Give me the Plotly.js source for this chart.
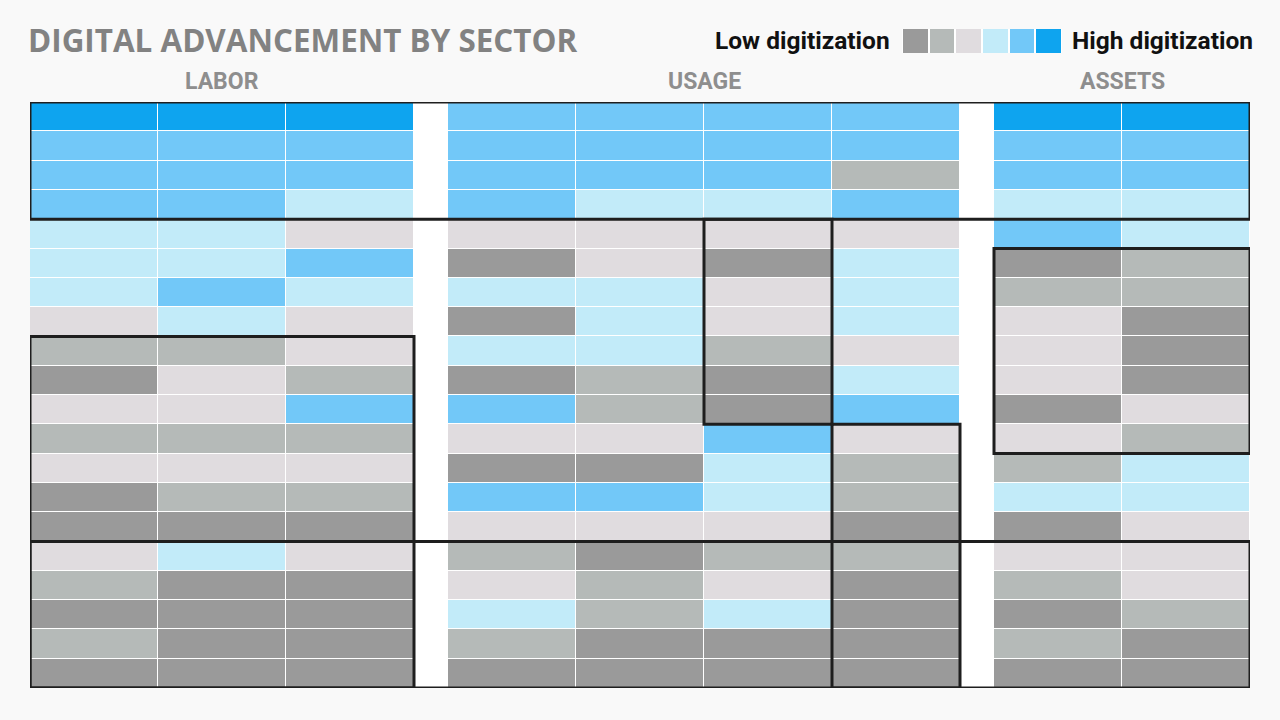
<!DOCTYPE html>
<html>
<head>
<meta charset="utf-8">
<script src="https://cdn.plot.ly/plotly-3.0.1.min.js"></script>
<style>
  html, body { margin: 0; padding: 0; background: #f9f9f9; }
  #chart { width: 1280px; height: 720px; }
</style>
</head>
<body>
<div id="chart"></div>
<script>
// ---- Data (digitization level 1 = low ... 6 = high), rows top to bottom ----
const groupNames = ["LABOR", "USAGE", "ASSETS"];
const labor = [
  [6,6,6],[5,5,5],[5,5,5],[5,5,4],[4,4,3],
  [4,4,5],[4,5,4],[3,4,3],[2,2,3],[1,3,2],
  [3,3,5],[2,2,2],[3,3,3],[1,2,2],[1,1,1],
  [3,4,3],[2,1,1],[1,1,1],[2,1,1],[1,1,1]
];
const usage = [
  [5,5,5,5],[5,5,5,5],[5,5,5,2],[5,4,4,5],[3,3,3,3],
  [1,3,1,4],[4,4,3,4],[1,4,3,4],[4,4,2,3],[1,2,1,4],
  [5,2,1,5],[3,3,5,3],[1,1,4,2],[5,5,4,2],[3,3,3,1],
  [2,1,2,2],[3,2,3,1],[4,2,4,1],[2,1,1,1],[1,1,1,1]
];
const assets = [
  [6,6],[5,5],[5,5],[4,4],[5,4],
  [1,2],[2,2],[3,1],[3,1],[3,1],
  [1,3],[3,2],[2,4],[4,4],[1,3],
  [3,3],[2,3],[1,2],[2,1],[1,1]
];
const levels = [1,2,3,4,5,6];
const legendLow = "Low digitization";
const legendHigh = "High digitization";
const chartTitle = "DIGITAL ADVANCEMENT BY SECTOR";
// Outlined clusters: [firstRow, lastRow, firstCol, lastCol] (1-based rows, 0-based global cols)
const outlines = [
  [1, 4, 0, 8],
  [9, 20, 0, 2],
  [16, 20, 0, 8],
  [5, 11, 5, 5],
  [12, 20, 6, 6],
  [6, 12, 7, 8]
];

// ---- Styling / geometry ----
const colors = ["#9a9a9a", "#b5bab8", "#e0dcdf", "#c2ebf9", "#72c8f8", "#0ea4ef"];
const GAP = 34 / 128;
const groupStart = [0, 3 + GAP, 7 + 2 * GAP];
const groupData = [labor, usage, assets];
const nRows = labor.length;
const xMax = 8.5 + 2 * GAP;

const colorscale = [];
colors.forEach((c, i) => {
  colorscale.push([i / colors.length, c]);
  colorscale.push([(i + 1) / colors.length, c]);
});

function colX(c) {
  if (c < 3) return c;
  if (c < 7) return c + GAP;
  return c + 2 * GAP;
}

const traces = groupData.map((z, gi) => ({
  type: "heatmap",
  z: z,
  x0: groupStart[gi], dx: 1,
  y0: 0, dy: 1,
  zmin: 0.5, zmax: 6.5,
  colorscale: colorscale,
  showscale: false,
  xgap: 1, ygap: 1,
  hoverinfo: "skip",
  xaxis: "x", yaxis: "y"
}));

// legend swatches as a small heatmap
traces.push({
  type: "heatmap",
  z: [levels],
  x0: 0, dx: 1, y0: 0, dy: 1,
  zmin: 0.5, zmax: 6.5,
  colorscale: colorscale,
  showscale: false,
  xgap: 2, ygap: 0,
  hoverinfo: "skip",
  xaxis: "x2", yaxis: "y2"
});

const W = 1280, H = 720;
const paperTop = 16, plotTop = 102, plotBottom = 688;
const pyToPaper = py => (plotBottom - py) / (plotBottom - paperTop);
const pxToPaper = px => (px - 30) / 1220;

const shapes = outlines.map(o => ({
  type: "rect", xref: "x", yref: "y",
  x0: colX(o[2]) - 0.5, x1: colX(o[3]) + 0.5,
  y0: o[0] - 1.5, y1: o[1] - 0.5,
  line: { color: "#1e1e1e", width: 3 },
  fillcolor: "rgba(0,0,0,0)"
}));

const annotations = [];
const groupCenters = [
  (groupStart[0] - 0.5 + groupStart[0] + 2.5) / 2,
  (groupStart[1] - 0.5 + groupStart[1] + 3.5) / 2,
  (groupStart[2] - 0.5 + groupStart[2] + 1.5) / 2
];
groupNames.forEach((n, i) => annotations.push({
  text: n, xref: "x", yref: "paper",
  x: groupCenters[i], y: pyToPaper(82),
  xanchor: "center", yanchor: "middle", showarrow: false,
  font: { family: "Roboto, 'Open Sans', sans-serif", size: 23, weight: 700, color: "#8e8e8e" }
}));
annotations.push({
  text: chartTitle, xref: "paper", yref: "paper",
  x: -0.003, y: pyToPaper(40), xanchor: "left", yanchor: "middle", showarrow: false,
  font: { family: "'Open Sans', Roboto, sans-serif", size: 31.4, weight: 700, color: "#828282" }
});
annotations.push({
  text: legendLow, xref: "paper", yref: "paper",
  x: pxToPaper(892), y: pyToPaper(41), xanchor: "right", yanchor: "middle", showarrow: false,
  font: { family: "Roboto, sans-serif", size: 24.5, weight: 700, color: "#111111" }
});
annotations.push({
  text: legendHigh, xref: "paper", yref: "paper",
  x: pxToPaper(1070), y: pyToPaper(41), xanchor: "left", yanchor: "middle", showarrow: false,
  font: { family: "Roboto, sans-serif", size: 24.5, weight: 700, color: "#111111" }
});

const layout = {
  width: W, height: H,
  margin: { l: 30, r: 30, t: paperTop, b: H - plotBottom, pad: 0 },
  paper_bgcolor: "#f9f9f9",
  plot_bgcolor: "#ffffff",
  showlegend: false,
  xaxis: { range: [-0.5, xMax], visible: false, fixedrange: true, domain: [0, 1] },
  yaxis: { range: [nRows - 0.5, -0.5], visible: false, fixedrange: true,
           domain: [0, pyToPaper(plotTop)] },
  xaxis2: { range: [-0.5, 5.5], visible: false, fixedrange: true, anchor: "y2",
            domain: [pxToPaper(902), pxToPaper(1062)] },
  yaxis2: { range: [-0.5, 0.5], visible: false, fixedrange: true, anchor: "x2",
            domain: [pyToPaper(53), pyToPaper(29)] },
  shapes: shapes,
  annotations: annotations
};

Plotly.newPlot("chart", traces, layout, { staticPlot: true, displayModeBar: false });
</script>
</body>
</html>
